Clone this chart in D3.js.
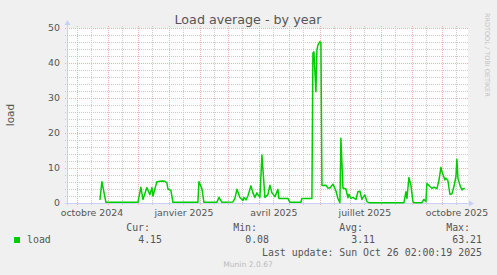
<!DOCTYPE html>
<html>
<head>
<meta charset="utf-8">
<script src="https://cdn.jsdelivr.net/npm/d3@7"></script>
<style>
  html, body { margin: 0; padding: 0; background: #f0f0f0; }
  svg { display: block; }
</style>
</head>
<body>
<svg id="chart" width="497" height="275"></svg>
<script>
// load average (date, value)
const loadDates = [
  '2024-10-24', '2024-10-26', '2024-10-30', '2024-12-01', '2024-12-04', '2024-12-06',
  '2024-12-10', '2024-12-13', '2024-12-15', '2024-12-16', '2024-12-20', '2024-12-25',
  '2024-12-28', '2024-12-30', '2024-12-31', '2025-01-03', '2025-01-05', '2025-01-30',
  '2025-01-31', '2025-02-03', '2025-02-05', '2025-02-18', '2025-02-20', '2025-02-23',
  '2025-03-06', '2025-03-08', '2025-03-10', '2025-03-13', '2025-03-16', '2025-03-17',
  '2025-03-19', '2025-03-21', '2025-03-24', '2025-03-26', '2025-03-28', '2025-03-30',
  '2025-03-31', '2025-04-02', '2025-04-04', '2025-04-07', '2025-04-10', '2025-04-12',
  '2025-04-14', '2025-04-15', '2025-04-17', '2025-04-20', '2025-04-21', '2025-04-30',
  '2025-05-02', '2025-05-13', '2025-05-14', '2025-05-24', '2025-05-25', '2025-05-26',
  '2025-05-28', '2025-05-29', '2025-05-30', '2025-06-01', '2025-06-02', '2025-06-03',
  '2025-06-07', '2025-06-09', '2025-06-11', '2025-06-14', '2025-06-17', '2025-06-19',
  '2025-06-21', '2025-06-22', '2025-06-24', '2025-06-27', '2025-06-29', '2025-06-30',
  '2025-07-02', '2025-07-04', '2025-07-07', '2025-07-09', '2025-07-11', '2025-07-13',
  '2025-07-14', '2025-07-16', '2025-07-18', '2025-07-20', '2025-08-24', '2025-08-26',
  '2025-08-27', '2025-08-29', '2025-08-31', '2025-09-02', '2025-09-03', '2025-09-11',
  '2025-09-13', '2025-09-15', '2025-09-16', '2025-09-19', '2025-09-21', '2025-09-23',
  '2025-09-26', '2025-09-28', '2025-09-30', '2025-10-01', '2025-10-04', '2025-10-05',
  '2025-10-07', '2025-10-09', '2025-10-11', '2025-10-13', '2025-10-15', '2025-10-16',
  '2025-10-17', '2025-10-19', '2025-10-21', '2025-10-22', '2025-10-24'
]
const loadValues = [
  0.9, 6.1, 0.2, 0.2, 4.5, 1.0,
  4.4, 2.4, 4.4, 2.0, 6.1, 6.3,
  6.2, 5.7, 4.0, 3.6, 0.2, 0.2,
  6.1, 4.1, 0.2, 0.2, 1.6, 0.2,
  0.3, 1.3, 3.9, 1.6, 0.7, 1.6,
  0.9, 2.0, 4.9, 2.9, 1.6, 2.9,
  2.4, 1.6, 13.7, 1.6, 2.4, 5.1,
  2.9, 2.6, 1.8, 3.9, 1.3, 1.3,
  0.2, 0.2, 1.3, 1.3, 42.8, 43.2,
  31.8, 43.7, 45.1, 46.1, 45.8, 5.0,
  5.1, 4.3, 4.3, 5.4, 3.5, 1.3,
  0.1, 18.5, 4.3, 4.0, 1.5, 2.5,
  1.3, 1.6, 1.0, 3.2, 3.4, 1.0,
  1.6, 2.3, 0.4, 0.1, 0.1, 3.2,
  1.3, 7.3, 5.1, 0.4, 0.1, 0.1,
  1.0, 0.4, 5.6, 4.7, 4.2, 4.5,
  4.1, 6.4, 10.2, 9.0, 6.6, 7.1,
  6.4, 2.5, 2.6, 4.7, 7.5, 12.5,
  7.1, 5.1, 3.7, 4.1, 4.15
]

const yTicks = [0, 10, 20, 30, 40, 50]
const xTickDates = ['2024-10-01', '2025-01-01', '2025-04-01', '2025-07-01', '2025-10-01']
const xTickLabels = ['octobre 2024', 'janvier 2025', 'avril 2025', 'juillet 2025', 'octobre 2025']

const legendHeaders = ['Cur:', 'Min:', 'Avg:', 'Max:']
const legendValues = ['4.15', '0.08', '3.11', '63.21']

const svg = d3.select('#chart')
const parse = d3.timeParse('%Y-%m-%d')
const start = new Date(2024, 8, 21, 2, 0, 19)
const end = new Date(2025, 9, 26, 2, 0, 19)

const plotLeft = 67, plotRight = 467, plotTop = 28, plotBottom = 203
const x = d3.scaleTime().domain([start, end]).range([plotLeft, plotRight])
const y = d3.scaleLinear().domain([0, 50]).range([plotBottom, plotTop])

const majorGrid = '#e8b2b2'
const minorGrid = '#cacaca'
const axisColor = '#c9d0f6'

// canvas
svg.append('rect')
  .attr('x', plotLeft).attr('y', plotTop)
  .attr('width', plotRight - plotLeft + 1).attr('height', plotBottom - plotTop)
  .attr('fill', '#fff')

const grid = svg.append('g').attr('shape-rendering', 'crispEdges')
const months = d3.timeMonth.range(start, end)
const midMonths = d3.timeMonth.range(d3.timeMonth.floor(start), end)
  .map((d) => d3.timeDay.offset(d, 14))
  .filter((d) => d > start && d < end)

// minor grid
grid.selectAll('line.hmin')
  .data(d3.range(0, 51, 2).filter((v) => v % 10 !== 0))
  .join('line')
  .attr('x1', plotLeft - 2).attr('x2', plotRight + 2)
  .attr('y1', (d) => Math.round(y(d)) + 0.5).attr('y2', (d) => Math.round(y(d)) + 0.5)
  .attr('stroke', minorGrid).attr('stroke-dasharray', '1,1')

grid.selectAll('line.vmin')
  .data(midMonths)
  .join('line')
  .attr('x1', (d) => Math.round(x(d)) + 0.5).attr('x2', (d) => Math.round(x(d)) + 0.5)
  .attr('y1', plotTop - 2).attr('y2', plotBottom + 2)
  .attr('stroke', minorGrid).attr('stroke-dasharray', '1,1')

// major grid
grid.selectAll('line.hmaj')
  .data(yTicks)
  .join('line')
  .attr('x1', plotLeft - 2).attr('x2', plotRight + 2)
  .attr('y1', (d) => Math.round(y(d)) + 0.5).attr('y2', (d) => Math.round(y(d)) + 0.5)
  .attr('stroke', majorGrid).attr('stroke-dasharray', '1,1')

grid.selectAll('line.vmaj')
  .data(months)
  .join('line')
  .attr('x1', (d) => Math.round(x(d)) + 0.5).attr('x2', (d) => Math.round(x(d)) + 0.5)
  .attr('y1', plotTop - 2).attr('y2', plotBottom + 2)
  .attr('stroke', majorGrid).attr('stroke-dasharray', '1,1')

// axes
grid.append('line')
  .attr('x1', plotLeft + 0.5).attr('x2', plotLeft + 0.5)
  .attr('y1', plotTop - 4).attr('y2', plotBottom + 2)
  .attr('stroke', axisColor)
grid.append('line')
  .attr('x1', plotLeft - 2).attr('x2', plotRight + 3)
  .attr('y1', plotBottom + 0.5).attr('y2', plotBottom + 0.5)
  .attr('stroke', axisColor)
svg.append('path')
  .attr('d', `M${plotLeft - 2.5},${plotTop - 3} L${plotLeft + 3.5},${plotTop - 3} L${plotLeft + 0.5},${plotTop - 8} Z`)
  .attr('fill', axisColor)
svg.append('path')
  .attr('d', `M${plotRight + 2},${plotBottom - 2.5} L${plotRight + 2},${plotBottom + 3.5} L${plotRight + 7},${plotBottom + 0.5} Z`)
  .attr('fill', axisColor)

// data line
const line = d3.line()
  .x((d) => x(d[0]))
  .y((d) => y(d[1]))
svg.append('path')
  .datum(loadDates.map((d, i) => [parse(d), loadValues[i]]))
  .attr('d', line)
  .attr('fill', 'none')
  .attr('stroke', '#00cc00')
  .attr('stroke-width', 1.5)
  .attr('stroke-linejoin', 'round')

// labels
const sans = 'DejaVu Sans, sans-serif'
const mono = 'DejaVu Sans Mono, monospace'

svg.append('text')
  .attr('x', 248).attr('y', 24)
  .attr('text-anchor', 'middle')
  .attr('font-family', sans).attr('font-size', 12.7)
  .attr('fill', '#555')
  .text('Load average - by year')

svg.selectAll('text.ytick')
  .data(yTicks)
  .join('text')
  .attr('x', 60).attr('y', (d) => y(d))
  .attr('dy', '0.36em')
  .attr('text-anchor', 'end')
  .attr('font-family', sans).attr('font-size', 9.4)
  .attr('fill', '#555')
  .text((d) => d)

svg.selectAll('text.xtick')
  .data(xTickDates)
  .join('text')
  .attr('x', (d) => x(d3.timeDay.offset(parse(d), 15)))
  .attr('y', 216)
  .attr('text-anchor', 'middle')
  .attr('font-family', sans).attr('font-size', 9.4)
  .attr('fill', '#555')
  .text((d, i) => xTickLabels[i])

svg.append('text')
  .attr('transform', 'translate(14,115) rotate(-90)')
  .attr('text-anchor', 'middle')
  .attr('font-family', sans).attr('font-size', 10.5)
  .attr('fill', '#555')
  .text('load')

svg.append('text')
  .attr('transform', 'translate(485,13) rotate(90)')
  .attr('font-family', sans).attr('font-size', 6.5)
  .attr('fill', '#c4c4c4')
  .text('RRDTOOL / TOBI OETIKER')

// legend
svg.append('rect')
  .attr('x', 14).attr('y', 237).attr('width', 6).attr('height', 6)
  .attr('fill', '#00cc00')
svg.append('text')
  .attr('x', 27).attr('y', 243)
  .attr('font-family', mono).attr('font-size', 9.9)
  .attr('fill', '#555')
  .text('load')

const colRight = [150, 257, 363, 470]
svg.selectAll('text.lhead')
  .data(legendHeaders)
  .join('text')
  .attr('x', (d, i) => colRight[i]).attr('y', 231)
  .attr('text-anchor', 'end')
  .attr('font-family', mono).attr('font-size', 9.9)
  .attr('fill', '#555')
  .text((d) => d)
svg.selectAll('text.lval')
  .data(legendValues)
  .join('text')
  .attr('x', (d, i) => colRight[i] + 12).attr('y', 243)
  .attr('text-anchor', 'end')
  .attr('font-family', mono).attr('font-size', 9.9)
  .attr('fill', '#555')
  .text((d) => d)

svg.append('text')
  .attr('x', 482).attr('y', 255.5)
  .attr('text-anchor', 'end')
  .attr('font-family', mono).attr('font-size', 9.9)
  .attr('fill', '#555')
  .text('Last update: Sun Oct 26 02:00:19 2025')

svg.append('text')
  .attr('x', 248).attr('y', 266.5)
  .attr('text-anchor', 'middle')
  .attr('font-family', sans).attr('font-size', 7.6)
  .attr('fill', '#bbb')
  .text('Munin 2.0.67')
</script>
</body>
</html>
